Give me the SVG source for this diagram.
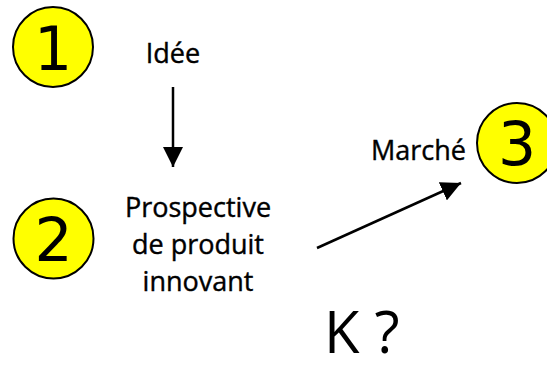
<svg xmlns="http://www.w3.org/2000/svg" width="547" height="369" viewBox="0 0 547 369">
<style>
.num{fill:#ffff00;stroke:#000;stroke-width:2}
.dig{font-family:"DejaVu Sans",sans-serif;font-size:60px;fill:#000;text-anchor:middle}
.lbl{font-family:"Open Sans","Liberation Sans",sans-serif;font-size:27px;fill:#000;stroke:#000;stroke-width:0.4}
.k{font-family:"Open Sans","Liberation Sans",sans-serif;font-size:58px;fill:#000}
.ln{stroke:#000;stroke-width:2.5;fill:none}
</style>
<defs>
<marker id="ah" viewBox="0 0 10 10" refX="10" refY="5" markerWidth="8" markerHeight="8" markerUnits="strokeWidth" orient="auto">
<path d="M0,0 L10,5 L0,10 Z" fill="#000"/>
</marker>
</defs>
<rect width="547" height="369" fill="#fff"/>
<g id="n1">
<circle class="num" cx="53" cy="47" r="40"/>
<text class="dig" x="53" y="70">1</text>
<text class="lbl" x="173" y="63" text-anchor="middle">Idée</text>
</g>
<g id="n2">
<circle class="num" cx="53.5" cy="238.5" r="40"/>
<text class="dig" x="53.5" y="261">2</text>
<text class="lbl" x="198" y="217" text-anchor="middle">Prospective</text>
<text class="lbl" x="198" y="254" text-anchor="middle">de produit</text>
<text class="lbl" x="198" y="291" text-anchor="middle">innovant</text>
</g>
<g id="n3">
<circle class="num" cx="517" cy="143" r="40"/>
<text class="dig" x="517" y="165">3</text>
<text class="lbl" x="466" y="160" text-anchor="end">Marché</text>
</g>
<g id="k">
<text class="k" x="324" y="353" xml:space="preserve">K ?</text>
</g>
<g id="connectors">
<line class="ln" x1="173" y1="87" x2="173" y2="167" marker-end="url(#ah)"/>
<line class="ln" x1="317" y1="248" x2="461" y2="183" marker-end="url(#ah)"/>
</g>
</svg>
